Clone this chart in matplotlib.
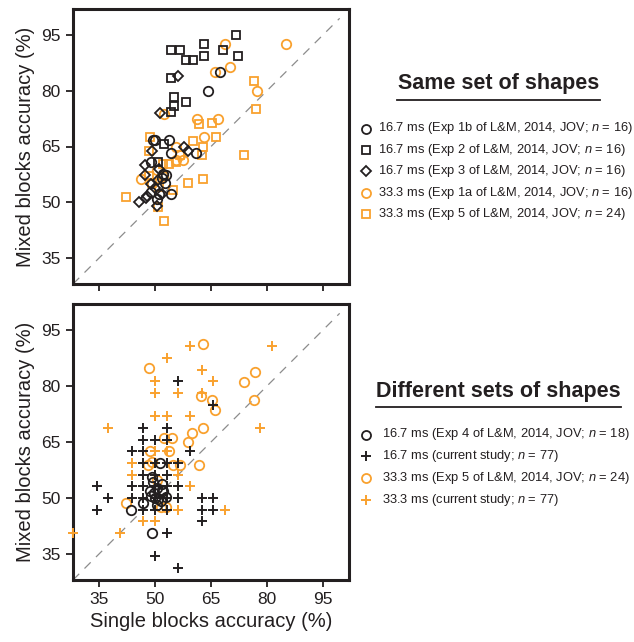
import numpy as np
import matplotlib
matplotlib.use('Agg')
import matplotlib.pyplot as plt

plt.rcParams['font.family'] = ['Liberation Sans', 'DejaVu Sans']
plt.rcParams['mathtext.fontset'] = 'custom'
plt.rcParams['mathtext.it'] = 'Liberation Sans:italic'
plt.rcParams['mathtext.rm'] = 'Liberation Sans'

BLACK = '#231f20'
ORANGE = '#f9a12e'

# ---- top panel: same set of shapes (single, mixed) ----
exp1b_16 = [(67.5, 85.1), (64.3, 80.0), (49.4, 66.8), (50.1, 66.8), (53.7, 66.8),
            (54.3, 63.3), (61.1, 63.3), (48.8, 60.8), (52.2, 57.7), (52.9, 57.4),
            (51.8, 56.4), (52.7, 55.3), (49.0, 52.8), (51.1, 52.3), (54.3, 52.2),
            (50.4, 50.8)]
exp2_16 = [(71.7, 95.0), (63.2, 92.6), (54.2, 91.0), (56.7, 91.0), (68.2, 91.0),
           (63.2, 89.3), (72.2, 89.3), (58.2, 88.4), (60.3, 88.4), (54.2, 83.4),
           (55.1, 78.3), (55.1, 75.8), (58.2, 76.9), (54.2, 74.4), (52.5, 65.8),
           (50.7, 60.8)]
exp3_16 = [(56.2, 83.9), (51.3, 73.9), (57.7, 65.0), (58.8, 63.8), (49.3, 63.8),
           (47.4, 60.1), (51.1, 59.0), (47.4, 57.4), (50.0, 53.8), (51.8, 52.3),
           (47.9, 51.7), (47.5, 51.2), (45.6, 50.1), (50.4, 49.0), (50.8, 56.0),
           (49.0, 55.0)]
exp1a_33 = [(68.7, 92.6), (85.0, 92.6), (66.1, 85.1), (70.0, 86.3), (77.4, 80.0),
            (52.5, 73.8), (61.2, 72.5), (67.0, 72.5), (63.1, 67.5), (55.6, 65.0),
            (56.8, 62.6), (55.6, 61.4), (57.6, 61.4), (46.2, 56.3), (50.4, 58.7),
            (52.0, 57.0)]
exp5_33 = [(76.6, 82.6), (77.0, 75.0), (61.9, 71.1), (65.2, 71.4), (66.3, 67.5),
           (60.1, 66.4), (62.9, 65.0), (62.6, 62.6), (73.9, 62.6), (48.6, 67.5),
           (48.3, 63.8), (53.8, 60.4), (52.0, 60.2), (48.3, 57.0), (49.3, 55.2),
           (58.9, 55.2), (62.9, 56.3), (42.3, 51.3), (54.9, 53.2), (50.8, 48.7),
           (52.5, 45.0), (56.7, 62.8), (55.5, 60.8), (51.1, 54.0)]

# ---- bottom panel: different sets of shapes ----
exp4_16 = [(51.3, 59.4), (49.3, 55.5), (49.4, 54.3), (51.8, 53.7), (48.7, 51.8),
           (48.8, 50.5), (50.1, 50.1), (52.1, 51.9), (52.9, 50.3), (51.5, 49.2),
           (50.4, 48.0), (46.8, 48.7), (43.6, 46.7), (49.3, 40.5), (49.6, 51.2),
           (50.4, 52.7), (51.8, 52.0), (50.9, 49.6)]
exp5b_33 = [(62.8, 91.3), (48.3, 84.9), (73.8, 81.2), (76.9, 83.8), (62.4, 77.4),
            (65.2, 76.2), (66.2, 73.7), (76.6, 76.2), (62.8, 68.8), (60.0, 67.4),
            (58.9, 65.0), (52.4, 66.2), (54.5, 66.2), (48.6, 62.5), (53.8, 62.5),
            (49.3, 59.7), (48.1, 58.8), (54.8, 58.8), (56.8, 58.8), (61.9, 58.8),
            (42.3, 48.7), (51.7, 47.6), (50.4, 54.7), (53.0, 47.5)]
# current study: accuracy in 32-trial steps (step index relative to 50 %)
cur_16_steps = [(-5, 1), (-4, 0), (-5, -1), (-2, 4), (-1, 6), (1, 6), (-1, 5), (0, 5),
                (1, 5), (-1, 4), (3, 4), (-1, 3), (0, 3), (1, 3), (2, 3), (-1, 2),
                (0, 2), (1, 2), (-2, 1), (-1, 1), (0, 1), (1, 1), (2, 1), (-2, 0),
                (-1, 0), (0, 0), (1, 0), (2, 0), (4, 0), (5, 0), (-1, -1), (0, -1),
                (1, -1), (4, -1), (5, -1), (4, -2), (1, -3), (0, -5), (2, -6),
                (2, 10), (5, 8)]
cur_33_steps = [(3, 13), (10, 13), (1, 12), (4, 11), (0, 10), (5, 10), (0, 9), (2, 9),
                (4, 9), (0, 7), (1, 7), (3, 7), (-4, 6), (9, 6), (0, 4), (1, 4),
                (-2, 3), (-2, 2), (2, 2), (3, 1), (2, -1), (6, -1), (-1, -2), (0, -2),
                (-7, -3), (-3, -3), (0, 3)]
STEP = 100 / 32

ticks = [35, 50, 65, 80, 95]
lims = (28, 102)

legend_top = ['16.7 ms (Exp 1b of L&M, 2014, JOV; $n$ = 16)',
              '16.7 ms (Exp 2 of L&M, 2014, JOV; $n$ = 16)',
              '16.7 ms (Exp 3 of L&M, 2014, JOV; $n$ = 16)',
              '33.3 ms (Exp 1a of L&M, 2014, JOV; $n$ = 16)',
              '33.3 ms (Exp 5 of L&M, 2014, JOV; $n$ = 24)']
legend_bot = ['16.7 ms (Exp 4 of L&M, 2014, JOV; $n$ = 18)',
              '16.7 ms (current study; $n$ = 77)',
              '33.3 ms (Exp 5 of L&M, 2014, JOV; $n$ = 24)',
              '33.3 ms (current study; $n$ = 77)']

W, H = 634, 642
fig = plt.figure(figsize=(W / 100, H / 100), dpi=100)


def px_axes(x0, y0, x1, y1):
    return fig.add_axes([x0 / W, 1 - y1 / H, (x1 - x0) / W, (y1 - y0) / H])


def style(ax, show_x):
    ax.set_xlim(*lims)
    ax.set_ylim(*lims)
    ax.plot([28, 99.5], [28, 99.5], ls=(0, (7, 6)), color='#8c8c8c', lw=0.9, zorder=1)
    for s in ax.spines.values():
        s.set_linewidth(2.2)
        s.set_color(BLACK)
    ax.set_xticks(ticks)
    ax.set_yticks(ticks)
    ax.tick_params(direction='out', length=5, width=1.3, color=BLACK,
                   labelsize=12.5, labelcolor=BLACK, pad=4)
    if not show_x:
        ax.set_xticklabels([])
    ax.set_ylabel('Mixed blocks accuracy (%)', fontsize=14.5, color=BLACK, labelpad=4)


def pts(ax, data, marker, color, ms=6.8, mew=1.3, z=3):
    x, y = zip(*data)
    ax.plot(x, y, ls='none', marker=marker, ms=ms, mfc='none', mec=color,
            mew=mew, zorder=z, clip_on=False)


ax1 = px_axes(73, 9, 349, 284)
style(ax1, False)
pts(ax1, exp5_33, 's', ORANGE, ms=6.0)
pts(ax1, exp1a_33, 'o', ORANGE)
pts(ax1, exp2_16, 's', BLACK, ms=6.0, z=4)
pts(ax1, exp3_16, 'D', BLACK, ms=5.2, z=4)
pts(ax1, exp1b_16, 'o', BLACK, z=4)

ax2 = px_axes(73, 304, 349, 580)
style(ax2, True)
cur33 = [(50 + i * STEP, 50 + j * STEP) for i, j in cur_33_steps]
cur16 = [(50 + i * STEP, 50 + j * STEP) for i, j in cur_16_steps]
pts(ax2, cur33, '+', ORANGE, ms=7, mew=1.4)
pts(ax2, exp5b_33, 'o', ORANGE)
pts(ax2, cur16, '+', BLACK, ms=7, mew=1.4, z=4)
pts(ax2, exp4_16, 'o', BLACK, z=4)
ax2.set_xlabel('Single blocks accuracy (%)', fontsize=14.5, color=BLACK, labelpad=3)

# legends drawn in pixel space
lg = fig.add_axes([0, 0, 1, 1])
lg.set_xlim(0, W)
lg.set_ylim(H, 0)
lg.axis('off')


def legend_block(title, y_title, y_line, x_l, x_r, rows, y0, dy, text_x):
    lg.text((x_l + x_r) / 2, y_title, title, ha='center', va='center',
            fontsize=15.5, fontweight='bold', color=BLACK)
    lg.plot([x_l, x_r], [y_line, y_line], color=BLACK, lw=1.3)
    for k, (label, marker, color, ms) in enumerate(rows):
        y = y0 + k * dy
        mew = 1.4 if marker == '+' else 1.3
        lg.plot([366], [y], ls='none', marker=marker, ms=ms, mfc='none', mec=color, mew=mew)
        lg.text(text_x, y, label, ha='left', va='center', fontsize=9.3, color=BLACK)


legend_block('Same set of shapes', 83, 99.5, 397, 600,
             [(legend_top[0], 'o', BLACK, 6.5), (legend_top[1], 's', BLACK, 5.8),
              (legend_top[2], 'D', BLACK, 5.0), (legend_top[3], 'o', ORANGE, 6.5),
              (legend_top[4], 's', ORANGE, 5.8)],
             128.5, 21.4, 378)
legend_block('Different sets of shapes', 391, 407, 376, 621,
             [(legend_bot[0], 'o', BLACK, 6.5), (legend_bot[1], '+', BLACK, 7),
              (legend_bot[2], 'o', ORANGE, 6.5), (legend_bot[3], '+', ORANGE, 7)],
             434.5, 21.9, 382)

fig.savefig('out.png', dpi=100)
